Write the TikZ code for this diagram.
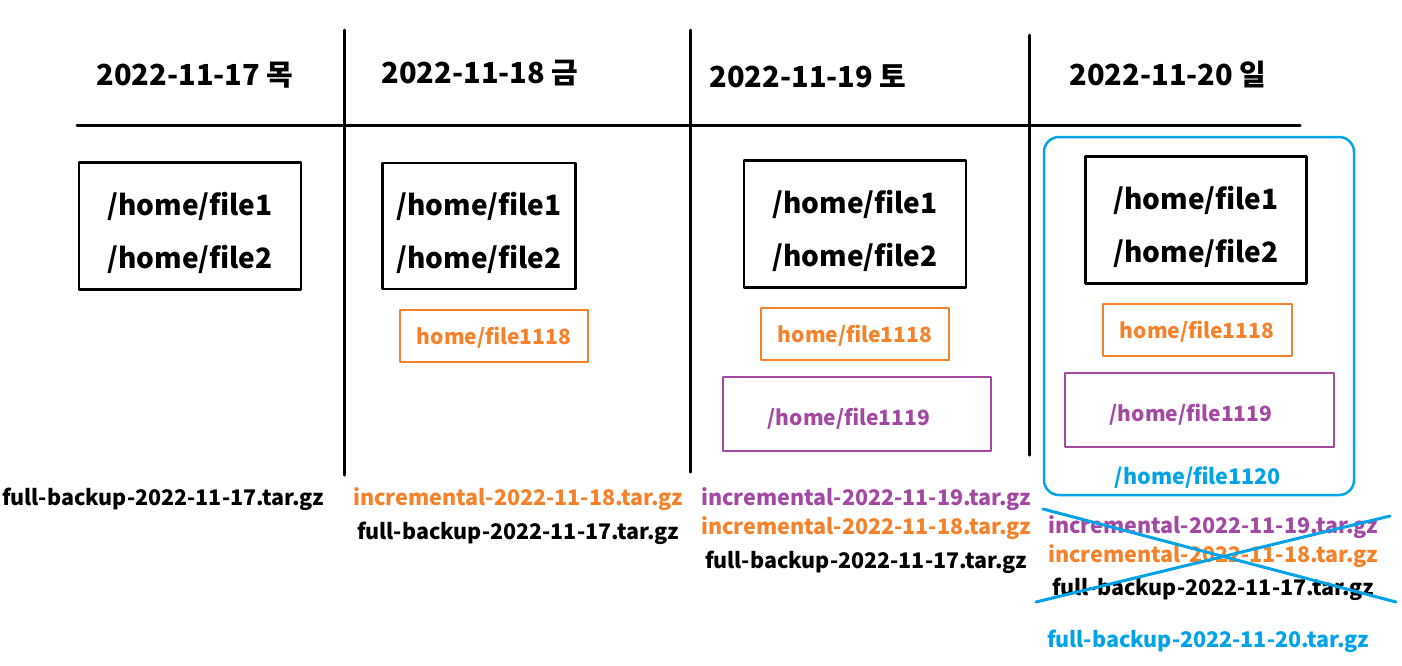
\documentclass[tikz,border=0pt]{standalone}
\usepackage{fontspec}
\setmainfont{Noto Sans CJK KR}
\usepackage{xcolor}
\usepackage{tikz}
\usetikzlibrary{calc}
\definecolor{incorange}{HTML}{F5822A}
\definecolor{incpurple}{HTML}{A349A4}
\definecolor{fullblue}{HTML}{00A2E8}
\newcommand{\lowline}[2][7pt]{\raisebox{-#1}[\height][\depth]{#2}}
\tikzset{
  every picture/.style={line cap=round,line join=round},
  gridline/.style={line width=3pt},
  daylabel/.style={font=\bfseries\fontsize{29}{34}\selectfont},
  filebox/.style={draw,line width=2.5pt,align=center,inner sep=0pt,
    font=\bfseries\fontsize{28}{53}\selectfont},
  incbox/.style={draw=#1,text=#1,line width=2pt,inner sep=0pt,
    font=\bfseries\fontsize{21}{25}\selectfont},
  archive/.style={text=#1,inner sep=0pt,font=\bfseries\fontsize{21.5}{25}\selectfont},
  archive/.default=black,
}

\begin{document}
\begin{tikzpicture}[x=1pt,y=-1pt]
    \useasboundingbox (0,0) rectangle (1402,665);
    % 표 틀
    \draw[gridline] (77,125) -- (1300,125);
    \draw[gridline] (344,30) -- (344,475);
    \draw[gridline] (690,30) -- (690,472);
    \draw[gridline] (1029,35) -- (1029,455);
    % 날짜
    \node[daylabel] (day17) at (195,75) {2022-11-17 목};
    \node[daylabel] (day18) at (480,73) {2022-11-18 금};
    \node[daylabel] (day19) at (808,76) {2022-11-19 토};
    \node[daylabel] (day20) at (1168,75) {2022-11-20 일};
    % 원래 파일
    \node[filebox,minimum width=222,minimum height=127] (files17) at (190,226) {\lowline{/home/file1}\\\lowline{/home/file2}};
    \node[filebox,minimum width=193,minimum height=126] (files18) at (479,226) {\lowline{/home/file1}\\\lowline{/home/file2}};
    \node[filebox,minimum width=222,minimum height=127] (files19) at (855,224) {\lowline{/home/file1}\\\lowline{/home/file2}};
    \node[filebox,minimum width=221,minimum height=127] (files20) at (1196,220) {\lowline{/home/file1}\\\lowline{/home/file2}};
    % 추가된 파일
    \node[incbox=incorange,minimum width=188,minimum height=52] (new18a) at (494,336) {\lowline[2pt]{home/file1118}};
    \node[incbox=incorange,minimum width=188,minimum height=52] (new18b) at (855,334) {\lowline[2pt]{home/file1118}};
    \node[incbox=incorange,minimum width=189,minimum height=52] (new18c) at (1197,330) {\lowline[2pt]{home/file1118}};
    \node[incbox=incpurple,minimum width=268,minimum height=74] (new19b) at (857,414) {\hspace*{-16pt}\lowline[5pt]{/home/file1119}};
    \node[incbox=incpurple,minimum width=269,minimum height=74] (new19c) at (1199,410) {\hspace*{-16pt}\lowline[5pt]{/home/file1119}};
    % 풀 백업 범위
    \draw[fullblue,line width=2.5pt,rounded corners=15] (1044,137) rectangle (1354,495);
    \node[archive=fullblue] (new20) at (1198,478) {/home/file1120};
    % 백업 파일
    \node[archive] (arc17a) at (163,499) {full-backup-2022-11-17.tar.gz};
    \node[archive=incorange] (arc18a) at (518,499) {incremental-2022-11-18.tar.gz};
    \node[archive] (arc18b) at (518,533) {full-backup-2022-11-17.tar.gz};
    \node[archive=incpurple] (arc19a) at (866,499) {incremental-2022-11-19.tar.gz};
    \node[archive=incorange] (arc19b) at (866,528) {incremental-2022-11-18.tar.gz};
    \node[archive] (arc19c) at (866,562) {full-backup-2022-11-17.tar.gz};
    \node[archive=incpurple] (arc20a) at (1213,527) {incremental-2022-11-19.tar.gz};
    \node[archive=incorange] (arc20b) at (1213,556) {incremental-2022-11-18.tar.gz};
    \node[archive] (arc20c) at (1213,589) {full-backup-2022-11-17.tar.gz};
    % 삭제 표시
    \draw[fullblue,line width=3pt] (1043,509) -- (1396,602);
    \draw[fullblue,line width=3pt] (1036,602) -- (1390,516);
    \node[archive=fullblue] (arc20new) at (1208,641) {full-backup-2022-11-20.tar.gz};
\end{tikzpicture}
\end{document}
